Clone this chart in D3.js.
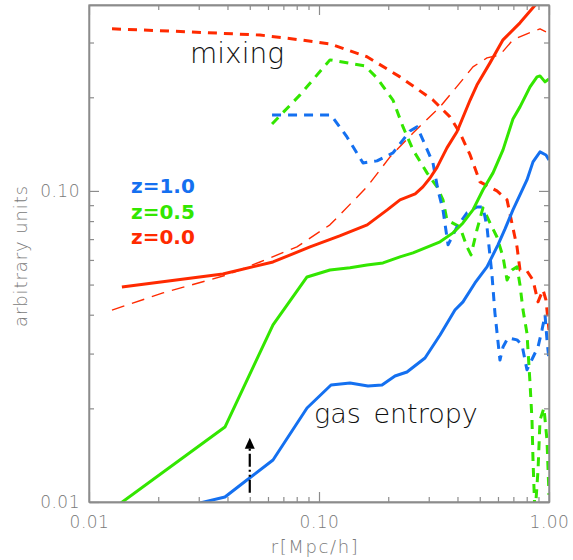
<!DOCTYPE html>
<html>
<head>
<meta charset="utf-8">
<script src="https://cdn.jsdelivr.net/npm/d3@7"></script>
<style>
  html, body { margin: 0; padding: 0; background: #fff; }
  svg { display: block; }
</style>
</head>
<body>
<svg id="chart" width="573" height="560"></svg>
<script>
// ---------- data ----------
const xMajorTicks = [0.01, 0.1, 1.0];
const xTickLabels = ["0.01", "0.10", "1.00"];
const xMinorTicks = [0.02, 0.03, 0.04, 0.05, 0.06, 0.07, 0.08, 0.09, 0.2, 0.3, 0.4, 0.5, 0.6, 0.7, 0.8, 0.9];
const yMajorTicks = [0.01, 0.1];
const yTickLabels = ["0.01", "0.10"];
const yMinorTicks = [0.02, 0.03, 0.04, 0.05, 0.06, 0.07, 0.08, 0.09, 0.2, 0.3];

const xTitle = "r[Mpc/h]";
const yTitle = "arbitrary units";
const legendLabels = ["z=1.0", "z=0.5", "z=0.0"];
const annotations = ["mixing", "gas entropy"];

// gas entropy, z=0.0 (red solid)
const entropyZ0x = [0.0139, 0.0382, 0.0631, 0.0914, 0.123, 0.162, 0.198, 0.225, 0.262, 0.283, 0.304, 0.326, 0.360, 0.398, 0.454, 0.486, 0.554, 0.631, 0.748, 0.887, 1.0];
const entropyZ0y = [0.0491, 0.0541, 0.0591, 0.0661, 0.0717, 0.0778, 0.0869, 0.0936, 0.0978, 0.103, 0.110, 0.119, 0.1375, 0.155, 0.196, 0.219, 0.258, 0.306, 0.347, 0.402, 0.446];

// gas entropy, z=0.5 (green solid)
const entropyZ05x = [0.01377, 0.0390, 0.0631, 0.0887, 0.1116, 0.1364, 0.1617, 0.1898, 0.225, 0.2563, 0.336, 0.3825, 0.4227, 0.467, 0.516, 0.571, 0.631, 0.697, 0.748, 0.827, 0.887, 0.914, 0.961, 1.0];
const entropyZ05y = [0.00993, 0.01742, 0.0371, 0.0529, 0.0557, 0.0566, 0.0578, 0.0587, 0.0614, 0.0632, 0.0686, 0.0733, 0.0789, 0.0869, 0.1007, 0.1143, 0.1355, 0.1704, 0.1863, 0.216, 0.2326, 0.2343, 0.2241, 0.2292];

// gas entropy, z=1.0 (blue solid)
const entropyZ1x = [0.0304, 0.0390, 0.0486, 0.0631, 0.0887, 0.1128, 0.1364, 0.1633, 0.1879, 0.214, 0.2413, 0.289, 0.336, 0.390, 0.4227, 0.4767, 0.5375, 0.600, 0.644, 0.697, 0.802, 0.852, 0.914, 0.970, 1.0];
const entropyZ1y = [0.00993, 0.01038, 0.01177, 0.01365, 0.02005, 0.02377, 0.02413, 0.0236, 0.02377, 0.02542, 0.02618, 0.02904, 0.03443, 0.0414, 0.0440, 0.0506, 0.0570, 0.0671, 0.0755, 0.0869, 0.1085, 0.124, 0.1335, 0.1305, 0.1258];

// mixing, z=0.0 (red dashed)
const mixingZ0x = [0.01259, 0.0275, 0.0554, 0.0771, 0.1116, 0.1617, 0.225, 0.313, 0.371, 0.410, 0.454, 0.501, 0.594, 0.657, 0.697, 0.726, 0.748, 0.802, 0.852, 0.896, 0.942, 0.970, 1.0];
const mixingZ0y = [0.332, 0.3245, 0.317, 0.308, 0.297, 0.270, 0.2326, 0.196, 0.173, 0.1536, 0.1305, 0.1069, 0.1, 0.0936, 0.0760, 0.0661, 0.0557, 0.0553, 0.0517, 0.0440, 0.0481, 0.0446, 0.0357];

// mixing, z=0.5 (green dashed)
const mixingZ05x = [0.0625, 0.0827, 0.1116, 0.1585, 0.1787, 0.2097, 0.2319, 0.2563, 0.2949, 0.326, 0.346, 0.360, 0.410, 0.440, 0.458, 0.486, 0.516, 0.554, 0.594, 0.631, 0.657, 0.690, 0.726, 0.748, 0.771, 0.802, 0.827, 0.8435, 0.852, 0.869, 0.896, 0.914, 0.951, 0.980, 1.0];
const mixingZ05y = [0.1642, 0.2036, 0.2638, 0.2523, 0.2308, 0.196, 0.1606, 0.1355, 0.1143, 0.103, 0.0936, 0.0806, 0.0766, 0.0661, 0.0623, 0.0749, 0.0882, 0.0789, 0.0711, 0.0614, 0.0517, 0.0557, 0.0570, 0.0498, 0.0414, 0.0349, 0.0241, 0.01835, 0.01365, 0.00908, 0.01267, 0.01835, 0.02005, 0.01582, 0.01053];

// mixing, z=1.0 (blue dashed)
const mixingZ1x = [0.0625, 0.1128, 0.1323, 0.1554, 0.1787, 0.2097, 0.2486, 0.2668, 0.283, 0.313, 0.329, 0.346, 0.364, 0.398, 0.440, 0.486, 0.516, 0.5375, 0.565, 0.582, 0.612, 0.631, 0.663, 0.726, 0.763, 0.802, 0.852, 0.896, 0.932, 0.961, 0.980, 1.0];
const mixingZ1y = [0.1755, 0.1755, 0.1491, 0.123, 0.1249, 0.1325, 0.1559, 0.1606, 0.1459, 0.123, 0.1007, 0.0869, 0.0671, 0.0766, 0.0850, 0.0888, 0.0888, 0.0766, 0.0537, 0.0405, 0.0286, 0.0315, 0.0337, 0.0332, 0.0320, 0.0266, 0.0292, 0.0315, 0.0357, 0.0399, 0.0332, 0.0286];

// thin dashed red (z=0.0 reference)
const thinZ0x = [0.01259, 0.02097, 0.0398, 0.0554, 0.0802, 0.1116, 0.1617, 0.2036, 0.2563, 0.336, 0.410, 0.467, 0.5375, 0.612, 0.697, 0.802, 0.914, 0.970];
const thinZ0y = [0.0414, 0.0470, 0.0537, 0.0591, 0.0661, 0.0778, 0.103, 0.1286, 0.1536, 0.1863, 0.2225, 0.2505, 0.2677, 0.2737, 0.306, 0.320, 0.332, 0.3245];

// arrow (vertical, at r = 0.05)
const arrowX = [0.05, 0.05];
const arrowY = [0.0107, 0.0161];

// ---------- chart ----------
const red = "#ff2a00", green = "#33e600", blue = "#1470f0";
const axisColor = "#8c8c8c", labelColor = "#7a7a7a";

const svg = d3.select("#chart");
const pL = 89, pR = 549, pT = 5, pB = 502;
const x = d3.scaleLog().domain([0.01, 1.0]).range([pL, pR]);
const y = d3.scaleLog().domain([0.01, 0.396]).range([pB, pT]);

svg.append("defs").append("clipPath").attr("id", "plotclip")
  .append("rect").attr("x", pL).attr("y", pT)
  .attr("width", pR - pL).attr("height", pB - pT);

const series = [
  {xs: thinZ0x, ys: thinZ0y, color: red, width: 1.4, dash: "13,8"},
  {xs: mixingZ0x, ys: mixingZ0y, color: red, width: 3, dash: "9,7"},
  {xs: mixingZ05x, ys: mixingZ05y, color: green, width: 3, dash: "9,7"},
  {xs: mixingZ1x, ys: mixingZ1y, color: blue, width: 3, dash: "9,7"},
  {xs: entropyZ1x, ys: entropyZ1y, color: blue, width: 3, dash: null},
  {xs: entropyZ05x, ys: entropyZ05y, color: green, width: 3, dash: null},
  {xs: entropyZ0x, ys: entropyZ0y, color: red, width: 3, dash: null}
];

const line = d3.line().x(d => x(d[0])).y(d => y(d[1]));
const plot = svg.append("g").attr("clip-path", "url(#plotclip)");
series.forEach(s => {
  const pts = s.xs.map((v, i) => [v, s.ys[i]]);
  plot.append("path").datum(pts)
    .attr("d", line)
    .attr("fill", "none")
    .attr("stroke", s.color)
    .attr("stroke-width", s.width)
    .attr("stroke-linejoin", "round")
    .attr("stroke-dasharray", s.dash);
});

// axes (ticks inward, mirrored on all sides)
function styleAxis(g) {
  g.selectAll("path.domain").attr("stroke", axisColor).attr("stroke-width", 1.3);
  g.selectAll(".tick line").attr("stroke", axisColor).attr("stroke-width", 1.2);
  g.selectAll(".tick text").attr("fill", labelColor)
    .style("font-family", "DejaVu Sans, sans-serif").style("font-size", "17px")
    .style("font-weight", "200").style("letter-spacing", "0.5px");
}
const fmtX = d => xTickLabels[xMajorTicks.indexOf(d)];
const fmtY = d => yTickLabels[yMajorTicks.indexOf(d)];

svg.append("g").attr("transform", `translate(0,${pB})`)
  .call(d3.axisBottom(x).tickValues(xMajorTicks).tickSize(-10).tickSizeOuter(0).tickPadding(14).tickFormat(fmtX))
  .call(styleAxis);
svg.append("g").attr("transform", `translate(0,${pB})`)
  .call(d3.axisBottom(x).tickValues(xMinorTicks).tickSize(-5).tickSizeOuter(0).tickFormat(""))
  .call(styleAxis);
svg.append("g").attr("transform", `translate(0,${pT})`)
  .call(d3.axisTop(x).tickValues(xMajorTicks).tickSize(-10).tickSizeOuter(0).tickFormat(""))
  .call(styleAxis);
svg.append("g").attr("transform", `translate(0,${pT})`)
  .call(d3.axisTop(x).tickValues(xMinorTicks).tickSize(-5).tickSizeOuter(0).tickFormat(""))
  .call(styleAxis);

svg.append("g").attr("transform", `translate(${pL},0)`)
  .call(d3.axisLeft(y).tickValues(yMajorTicks).tickSize(-10).tickSizeOuter(0).tickPadding(9).tickFormat(fmtY))
  .call(styleAxis);
svg.append("g").attr("transform", `translate(${pL},0)`)
  .call(d3.axisLeft(y).tickValues(yMinorTicks).tickSize(-5).tickSizeOuter(0).tickFormat(""))
  .call(styleAxis);
svg.append("g").attr("transform", `translate(${pR},0)`)
  .call(d3.axisRight(y).tickValues(yMajorTicks).tickSize(-10).tickSizeOuter(0).tickFormat(""))
  .call(styleAxis);
svg.append("g").attr("transform", `translate(${pR},0)`)
  .call(d3.axisRight(y).tickValues(yMinorTicks).tickSize(-5).tickSizeOuter(0).tickFormat(""))
  .call(styleAxis);

// frame
svg.append("rect").attr("x", pL).attr("y", pT).attr("width", pR - pL).attr("height", pB - pT)
  .attr("fill", "none").attr("stroke", axisColor).attr("stroke-width", 1.3);

// axis titles
svg.append("text").attr("x", (pL + pR) / 2 - 4).attr("y", 553)
  .attr("text-anchor", "middle").attr("fill", labelColor)
  .style("font-family", "DejaVu Sans, sans-serif").style("font-size", "18px")
  .style("font-weight", "200").style("letter-spacing", "1.6px")
  .text(xTitle);
svg.append("text").attr("transform", `translate(27,256) rotate(-90)`)
  .attr("text-anchor", "middle").attr("fill", labelColor)
  .style("font-family", "DejaVu Sans, sans-serif").style("font-size", "18px")
  .style("font-weight", "200").style("letter-spacing", "0.9px")
  .text(yTitle);

// annotations
svg.append("text").attr("x", 190).attr("y", 63)
  .attr("fill", "#111").style("font-family", "DejaVu Sans, sans-serif").style("font-size", "28px")
  .style("font-weight", "200")
  .text(annotations[0]);
svg.append("text").attr("x", 314).attr("y", 423)
  .attr("fill", "#111").style("font-family", "DejaVu Sans, sans-serif").style("font-size", "27px")
  .style("font-weight", "200").style("word-spacing", "4px")
  .text(annotations[1]);

// legend
const legendColors = [blue, green, red];
legendLabels.forEach((t, i) => {
  svg.append("text").attr("x", 131).attr("y", 193 + i * 25.5)
    .attr("fill", legendColors[i])
    .style("font-family", "DejaVu Sans, sans-serif").style("font-size", "20px").style("font-weight", "bold")
    .text(t);
});

// arrow
const ax = x(arrowX[0]), ay0 = y(arrowY[0]), ay1 = y(arrowY[1]);
svg.append("line").attr("x1", ax).attr("x2", ax).attr("y1", ay0).attr("y2", ay1 + 9)
  .attr("stroke", "#000").attr("stroke-width", 2.2)
  .attr("stroke-dasharray", "13,3,2,3,2,3");
svg.append("path")
  .attr("d", `M${ax},${ay1} L${ax - 5},${ay1 + 11} L${ax + 5},${ay1 + 11} Z`)
  .attr("fill", "#000");
</script>
</body>
</html>
